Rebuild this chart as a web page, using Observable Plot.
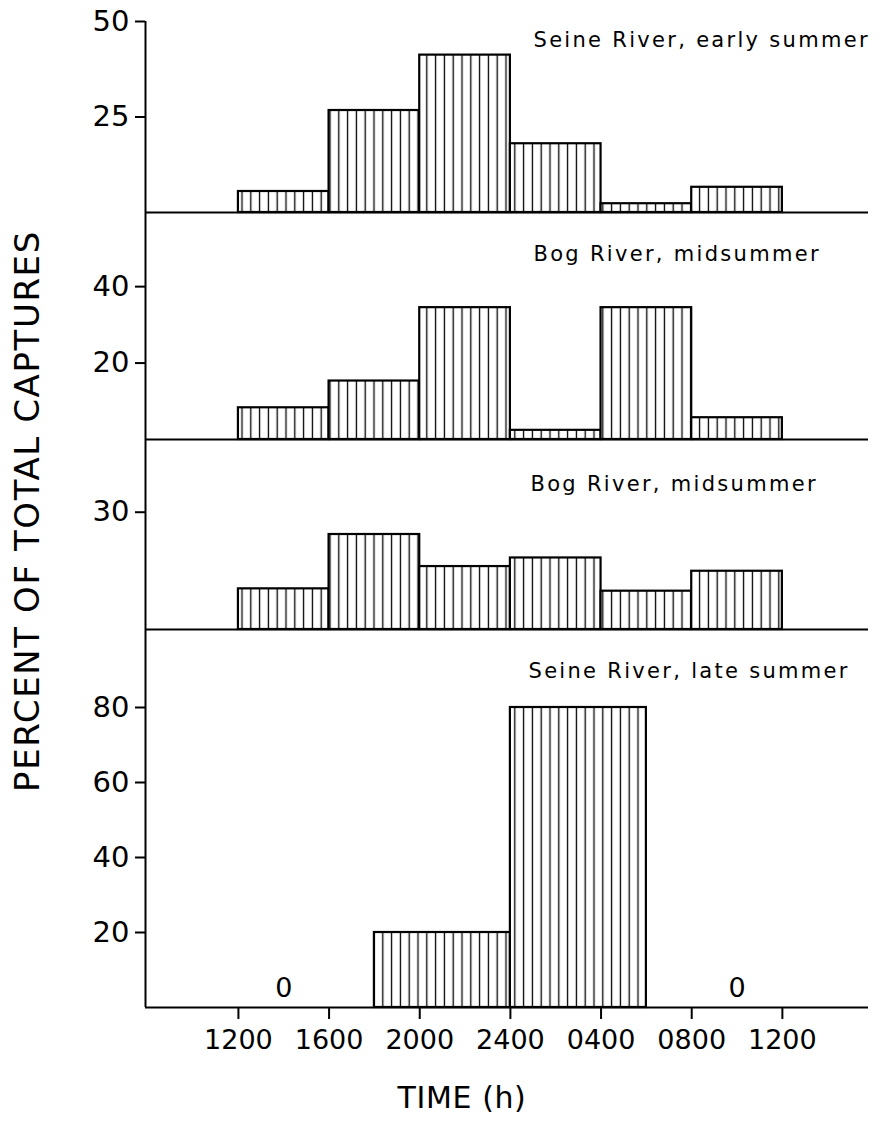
<!DOCTYPE html>
<html>
<head>
<meta charset="utf-8">
<script src="https://cdn.jsdelivr.net/npm/d3@7"></script>
<script src="https://cdn.jsdelivr.net/npm/@observablehq/plot@0.6"></script>
<style>
  body { margin: 0; background: #fff; }
  #chart { position: relative; width: 883px; height: 1121px; font-family: "DejaVu Sans", sans-serif; color: #000; }
  #chart svg { display: block; overflow: visible; background: transparent; }
  #ytitle { position: absolute; left: 27px; top: 511px; transform: translate(-50%, -50%) rotate(-90deg);
            font-size: 34px; letter-spacing: 1.6px; white-space: nowrap; z-index: 2; }
</style>
</head>
<body>
<div id="chart"><div id="ytitle"></div></div>
<script>
// ---------- data ----------
const binStarts = [12, 16, 20, 24, 28, 32];
const binEnds   = [16, 20, 24, 28, 32, 36];
const seineEarly = [5.5, 26.7, 41.2, 18.0, 2.3, 6.6];
const bogMid1    = [8.3, 15.3, 34.5, 2.4, 34.5, 5.7];
const bogMid2    = [10.4, 24.3, 16.1, 18.3, 9.8, 14.9];
const lateStarts = [18, 24];
const lateEnds   = [24, 30];
const seineLate  = [20, 80];
const zeroHours  = [14, 34];
const zeroLabels = ["0", "0"];
const panelTitles = ["Seine River, early summer", "Bog River, midsummer", "Bog River, midsummer", "Seine River, late summer"];
const yTicks = [[25, 50], [20, 40], [30], [20, 40, 60, 80]];
const xTickValues = [12, 16, 20, 24, 28, 32, 36];
const xTickLabels = ["1200", "1600", "2000", "2400", "0400", "0800", "1200"];
const xTitle = "TIME (h)";
const yTitle = "PERCENT OF TOTAL CAPTURES";

// ---------- layout ----------
const W = 883;
const xDomain = [7.9, 39.8];
const marginLeft = 145, marginRight = 15;
const panels = [
  {starts: binStarts, ends: binEnds, values: seineEarly, yMax: 50,    height: 212, mt: 21, mb: 0,   tdx: 388, tdy: 25},
  {starts: binStarts, ends: binEnds, values: bogMid1,    yMax: 59.4,  height: 227, mt: 0,  mb: 0,   tdx: 388, tdy: 48},
  {starts: binStarts, ends: binEnds, values: bogMid2,    yMax: 48.6,  height: 190, mt: 0,  mb: 0,   tdx: 385, tdy: 51},
  {starts: lateStarts, ends: lateEnds, values: seineLate, yMax: 100.8, height: 492, mt: 0,  mb: 114, tdx: 383, tdy: 48}
];

document.getElementById("ytitle").textContent = yTitle;
const chart = document.getElementById("chart");
const ns = "http://www.w3.org/2000/svg";

panels.forEach((p, i) => {
  const rows = p.values.map((v, k) => ({start: p.starts[k], end: p.ends[k], value: v}));
  const last = i === panels.length - 1;
  const marks = [
    Plot.rect(rows, {x1: "start", x2: "end", y1: 0, y2: "value",
      fill: `url(#hatch${i})`, stroke: "black", strokeWidth: 2.2}),
    Plot.ruleY([0], {stroke: "black", strokeWidth: 2}),
    Plot.ruleX([xDomain[0]], {stroke: "black", strokeWidth: 2}),
    Plot.axisY({ticks: yTicks[i], tickSize: 10, tickPadding: 6, strokeWidth: 2, fontSize: 29, label: null}),
    Plot.text([panelTitles[i]], {text: d => d, frameAnchor: "top-left", textAnchor: "start", lineAnchor: "bottom",
      dx: p.tdx, dy: p.tdy, fontSize: 21})
  ];
  if (last) {
    marks.push(
      Plot.axisX({ticks: xTickValues, tickFormat: d => xTickLabels[xTickValues.indexOf(d)],
        tickSize: 12, tickPadding: 10, strokeWidth: 2, fontSize: 27, label: null}),
      Plot.text(zeroHours, {x: d => d, y: 0, text: (d, k) => zeroLabels[k], dy: -19, fontSize: 27}),
      Plot.text([xTitle], {text: d => d, frameAnchor: "bottom", lineAnchor: "bottom", dx: -45, dy: 100,
        fontSize: 30})
    );
  }
  const svg = Plot.plot({
    width: W,
    height: p.height,
    marginLeft, marginRight,
    marginTop: p.mt,
    marginBottom: p.mb,
    style: {fontFamily: "DejaVu Sans", fontSize: "27px", background: "transparent", overflow: "visible", color: "black"},
    x: {domain: xDomain, axis: last ? undefined : null},
    y: {domain: [0, p.yMax]},
    marks
  });
  // hatching pattern
  const defs = document.createElementNS(ns, "defs");
  const pat = document.createElementNS(ns, "pattern");
  pat.setAttribute("id", `hatch${i}`);
  pat.setAttribute("patternUnits", "userSpaceOnUse");
  pat.setAttribute("width", "8.8");
  pat.setAttribute("height", "10");
  const bg = document.createElementNS(ns, "rect");
  bg.setAttribute("width", "8.8"); bg.setAttribute("height", "10"); bg.setAttribute("fill", "white");
  const ln = document.createElementNS(ns, "path");
  ln.setAttribute("d", "M4.4,0V10");
  ln.setAttribute("stroke", "black");
  ln.setAttribute("stroke-width", "1.3");
  pat.appendChild(bg); pat.appendChild(ln);
  defs.appendChild(pat);
  svg.insertBefore(defs, svg.firstChild);
  svg.querySelectorAll("text").forEach(t => {
    if (panelTitles.includes(t.textContent)) {
      t.style.letterSpacing = "2.3px";
      t.setAttribute("letter-spacing", "2.3");
    }
    if (t.textContent === xTitle) {
      t.style.letterSpacing = "0.6px";
      t.setAttribute("letter-spacing", "0.6");
    }
  });
  chart.appendChild(svg);
});
</script>
</body>
</html>
